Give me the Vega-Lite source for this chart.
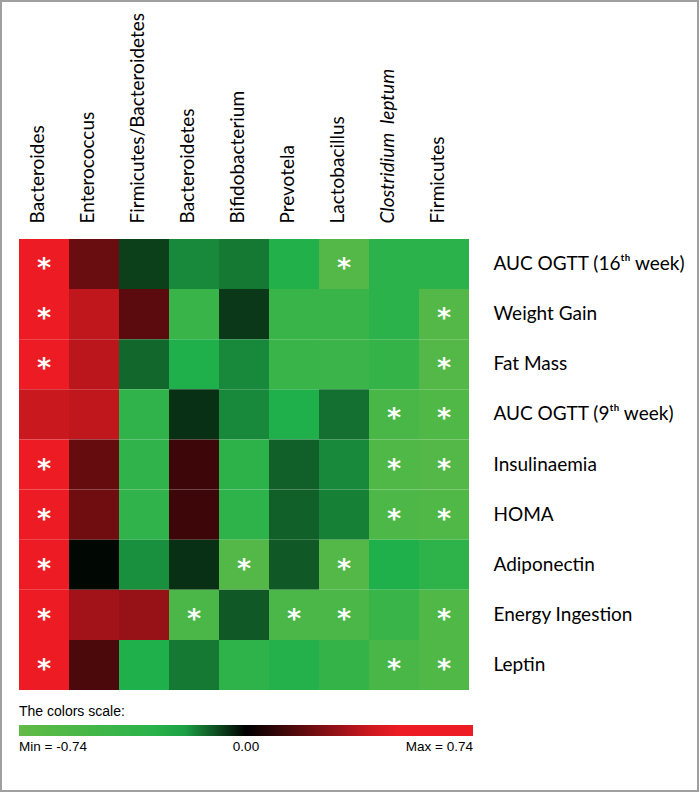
{
  "$schema": "https://vega.github.io/schema/vega-lite/v6.json",
  "width": 697,
  "height": 790,
  "autosize": {"type": "none"},
  "padding": {"left": 1, "top": 1, "right": 2, "bottom": 2},
  "background": "white",
  "config": {
    "view": {"stroke": "#a0a0a0", "strokeWidth": 2},
    "legend": {"gradientHorizontalMaxLength": 454, "gradientHorizontalMinLength": 100}
  },
  "data": {"values": [
    {"row": "AUC OGTT (16ᵗʰ week)", "col": "Bacteroides", "value": 0.66, "sig": true},
    {"row": "AUC OGTT (16ᵗʰ week)", "col": "Enterococcus", "value": 0.21, "sig": false},
    {"row": "AUC OGTT (16ᵗʰ week)", "col": "Firmicutes/Bacteroidetes", "value": -0.08, "sig": false},
    {"row": "AUC OGTT (16ᵗʰ week)", "col": "Bacteroidetes", "value": -0.17, "sig": false},
    {"row": "AUC OGTT (16ᵗʰ week)", "col": "Bifidobacterium", "value": -0.15, "sig": false},
    {"row": "AUC OGTT (16ᵗʰ week)", "col": "Prevotela", "value": -0.24, "sig": false},
    {"row": "AUC OGTT (16ᵗʰ week)", "col": "Lactobacillus", "value": -0.62, "sig": true},
    {"row": "AUC OGTT (16ᵗʰ week)", "col": "Clostridium  leptum", "value": -0.31, "sig": false},
    {"row": "AUC OGTT (16ᵗʰ week)", "col": "Firmicutes", "value": -0.31, "sig": false},

    {"row": "Weight Gain", "col": "Bacteroides", "value": 0.68, "sig": true},
    {"row": "Weight Gain", "col": "Enterococcus", "value": 0.38, "sig": false},
    {"row": "Weight Gain", "col": "Firmicutes/Bacteroidetes", "value": 0.18, "sig": false},
    {"row": "Weight Gain", "col": "Bacteroidetes", "value": -0.42, "sig": false},
    {"row": "Weight Gain", "col": "Bifidobacterium", "value": -0.07, "sig": false},
    {"row": "Weight Gain", "col": "Prevotela", "value": -0.42, "sig": false},
    {"row": "Weight Gain", "col": "Lactobacillus", "value": -0.42, "sig": false},
    {"row": "Weight Gain", "col": "Clostridium  leptum", "value": -0.31, "sig": false},
    {"row": "Weight Gain", "col": "Firmicutes", "value": -0.62, "sig": true},

    {"row": "Fat Mass", "col": "Bacteroides", "value": 0.66, "sig": true},
    {"row": "Fat Mass", "col": "Enterococcus", "value": 0.37, "sig": false},
    {"row": "Fat Mass", "col": "Firmicutes/Bacteroidetes", "value": -0.13, "sig": false},
    {"row": "Fat Mass", "col": "Bacteroidetes", "value": -0.23, "sig": false},
    {"row": "Fat Mass", "col": "Bifidobacterium", "value": -0.17, "sig": false},
    {"row": "Fat Mass", "col": "Prevotela", "value": -0.42, "sig": false},
    {"row": "Fat Mass", "col": "Lactobacillus", "value": -0.44, "sig": false},
    {"row": "Fat Mass", "col": "Clostridium  leptum", "value": -0.38, "sig": false},
    {"row": "Fat Mass", "col": "Firmicutes", "value": -0.62, "sig": true},

    {"row": "AUC OGTT (9ᵗʰ week)", "col": "Bacteroides", "value": 0.40, "sig": false},
    {"row": "AUC OGTT (9ᵗʰ week)", "col": "Enterococcus", "value": 0.38, "sig": false},
    {"row": "AUC OGTT (9ᵗʰ week)", "col": "Firmicutes/Bacteroidetes", "value": -0.35, "sig": false},
    {"row": "AUC OGTT (9ᵗʰ week)", "col": "Bacteroidetes", "value": -0.06, "sig": false},
    {"row": "AUC OGTT (9ᵗʰ week)", "col": "Bifidobacterium", "value": -0.17, "sig": false},
    {"row": "AUC OGTT (9ᵗʰ week)", "col": "Prevotela", "value": -0.23, "sig": false},
    {"row": "AUC OGTT (9ᵗʰ week)", "col": "Lactobacillus", "value": -0.14, "sig": false},
    {"row": "AUC OGTT (9ᵗʰ week)", "col": "Clostridium  leptum", "value": -0.54, "sig": true},
    {"row": "AUC OGTT (9ᵗʰ week)", "col": "Firmicutes", "value": -0.6, "sig": true},

    {"row": "Insulinaemia", "col": "Bacteroides", "value": 0.7, "sig": true},
    {"row": "Insulinaemia", "col": "Enterococcus", "value": 0.2, "sig": false},
    {"row": "Insulinaemia", "col": "Firmicutes/Bacteroidetes", "value": -0.35, "sig": false},
    {"row": "Insulinaemia", "col": "Bacteroidetes", "value": 0.12, "sig": false},
    {"row": "Insulinaemia", "col": "Bifidobacterium", "value": -0.33, "sig": false},
    {"row": "Insulinaemia", "col": "Prevotela", "value": -0.12, "sig": false},
    {"row": "Insulinaemia", "col": "Lactobacillus", "value": -0.17, "sig": false},
    {"row": "Insulinaemia", "col": "Clostridium  leptum", "value": -0.6, "sig": true},
    {"row": "Insulinaemia", "col": "Firmicutes", "value": -0.62, "sig": true},

    {"row": "HOMA", "col": "Bacteroides", "value": 0.7, "sig": true},
    {"row": "HOMA", "col": "Enterococcus", "value": 0.22, "sig": false},
    {"row": "HOMA", "col": "Firmicutes/Bacteroidetes", "value": -0.35, "sig": false},
    {"row": "HOMA", "col": "Bacteroidetes", "value": 0.12, "sig": false},
    {"row": "HOMA", "col": "Bifidobacterium", "value": -0.34, "sig": false},
    {"row": "HOMA", "col": "Prevotela", "value": -0.12, "sig": false},
    {"row": "HOMA", "col": "Lactobacillus", "value": -0.16, "sig": false},
    {"row": "HOMA", "col": "Clostridium  leptum", "value": -0.58, "sig": true},
    {"row": "HOMA", "col": "Firmicutes", "value": -0.6, "sig": true},

    {"row": "Adiponectin", "col": "Bacteroides", "value": 0.68, "sig": true},
    {"row": "Adiponectin", "col": "Enterococcus", "value": -0.01, "sig": false},
    {"row": "Adiponectin", "col": "Firmicutes/Bacteroidetes", "value": -0.18, "sig": false},
    {"row": "Adiponectin", "col": "Bacteroidetes", "value": -0.06, "sig": false},
    {"row": "Adiponectin", "col": "Bifidobacterium", "value": -0.62, "sig": true},
    {"row": "Adiponectin", "col": "Prevotela", "value": -0.11, "sig": false},
    {"row": "Adiponectin", "col": "Lactobacillus", "value": -0.62, "sig": true},
    {"row": "Adiponectin", "col": "Clostridium  leptum", "value": -0.23, "sig": false},
    {"row": "Adiponectin", "col": "Firmicutes", "value": -0.34, "sig": false},

    {"row": "Energy Ingestion", "col": "Bacteroides", "value": 0.68, "sig": true},
    {"row": "Energy Ingestion", "col": "Enterococcus", "value": 0.32, "sig": false},
    {"row": "Energy Ingestion", "col": "Firmicutes/Bacteroidetes", "value": 0.3, "sig": false},
    {"row": "Energy Ingestion", "col": "Bacteroidetes", "value": -0.56, "sig": true},
    {"row": "Energy Ingestion", "col": "Bifidobacterium", "value": -0.11, "sig": false},
    {"row": "Energy Ingestion", "col": "Prevotela", "value": -0.56, "sig": true},
    {"row": "Energy Ingestion", "col": "Lactobacillus", "value": -0.56, "sig": true},
    {"row": "Energy Ingestion", "col": "Clostridium  leptum", "value": -0.42, "sig": false},
    {"row": "Energy Ingestion", "col": "Firmicutes", "value": -0.6, "sig": true},

    {"row": "Leptin", "col": "Bacteroides", "value": 0.7, "sig": true},
    {"row": "Leptin", "col": "Enterococcus", "value": 0.15, "sig": false},
    {"row": "Leptin", "col": "Firmicutes/Bacteroidetes", "value": -0.23, "sig": false},
    {"row": "Leptin", "col": "Bacteroidetes", "value": -0.15, "sig": false},
    {"row": "Leptin", "col": "Bifidobacterium", "value": -0.34, "sig": false},
    {"row": "Leptin", "col": "Prevotela", "value": -0.26, "sig": false},
    {"row": "Leptin", "col": "Lactobacillus", "value": -0.38, "sig": false},
    {"row": "Leptin", "col": "Clostridium  leptum", "value": -0.54, "sig": true},
    {"row": "Leptin", "col": "Firmicutes", "value": -0.6, "sig": true}
  ]},
  "encoding": {
    "x": {
      "field": "col", "type": "nominal",
      "scale": {
        "domain": ["Bacteroides", "Enterococcus", "Firmicutes/Bacteroidetes", "Bacteroidetes", "Bifidobacterium", "Prevotela", "Lactobacillus", "Clostridium  leptum", "Firmicutes"],
        "range": [18, 468], "paddingInner": 0, "paddingOuter": 0
      },
      "axis": {
        "orient": "top", "offset": -237, "title": null,
        "domain": false, "ticks": false,
        "labelAngle": -90, "labelAlign": "left", "labelBaseline": "alphabetic",
        "labelPadding": 15, "labelFont": "Lato", "labelFontSize": 19, "labelColor": "#000000",
        "labelFontStyle": {"condition": {"test": "datum.value == 'Clostridium  leptum'", "value": "italic"}, "value": "normal"},
        "labelExpr": "datum.value == 'Clostridium  leptum' ? 'Clostridium\u00a0\u00a0leptum' : datum.value",
        "labelLimit": 400
      }
    },
    "y": {
      "field": "row", "type": "nominal",
      "scale": {
        "domain": ["AUC OGTT (16ᵗʰ week)", "Weight Gain", "Fat Mass", "AUC OGTT (9ᵗʰ week)", "Insulinaemia", "HOMA", "Adiponectin", "Energy Ingestion", "Leptin"],
        "range": [238, 689], "paddingInner": 0, "paddingOuter": 0
      },
      "axis": {
        "orient": "right", "offset": -229, "title": null,
        "domain": false, "ticks": false,
        "labelPadding": 24, "labelFont": "Lato", "labelFontSize": 19, "labelColor": "#000000",
        "labelLimit": 300
      }
    }
  },
  "layer": [
    {
      "mark": {"type": "rect"},
      "encoding": {
        "color": {
          "field": "value", "type": "quantitative",
          "scale": {
            "domain": [-0.74, -0.22, 0, 0.47, 0.74],
            "range": ["#62bb46", "#1fb04b", "#000000", "#ed1c24", "#ed1c24"],
            "interpolate": "rgb"
          },
          "legend": {
            "orient": "none", "direction": "horizontal",
            "legendX": 18, "legendY": 704,
            "title": "The colors scale:",
            "titleFont": "Liberation Sans", "titleFontSize": 14, "titleFontWeight": "normal", "titleColor": "#000000",
            "titlePadding": 6,
            "gradientLength": 454, "gradientThickness": 11, "gradientStrokeWidth": 0,
            "values": [-0.74, 0, 0.74],
            "labelExpr": "datum.value < -0.5 ? 'Min = -0.74' : datum.value > 0.5 ? 'Max = 0.74' : '0.00'",
            "labelFont": "Liberation Sans", "labelFontSize": 13.5, "labelColor": "#000000",
            "labelOffset": 4, "labelOverlap": false,
            "padding": 0
          }
        }
      }
    },
    {
      "transform": [{"filter": "datum.sig"}],
      "mark": {"type": "text", "text": "*", "color": "#ffffff", "font": "DejaVu Sans", "fontWeight": "bold", "fontSize": 27, "baseline": "middle", "align": "center", "dy": 5}
    }
  ]
}
